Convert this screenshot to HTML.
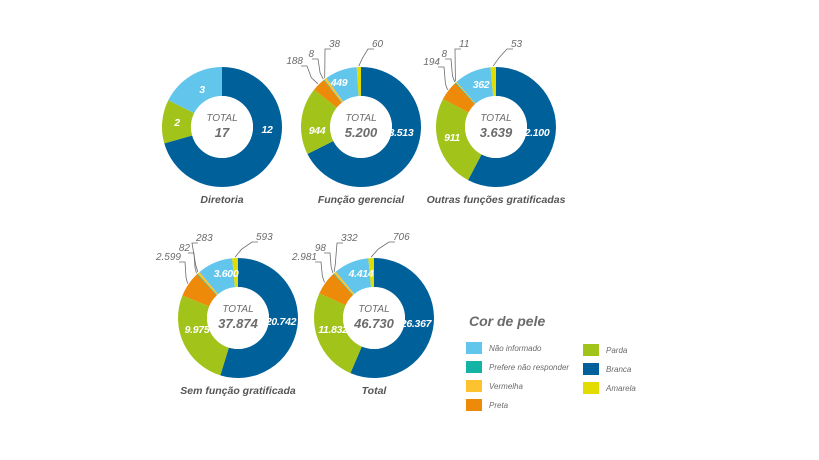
<!DOCTYPE html>
<html><head><meta charset="utf-8"><style>
html,body{margin:0;padding:0;background:#fff;width:819px;height:460px;overflow:hidden}
svg{display:block;font-family:"Liberation Sans",sans-serif}
</style></head><body>
<svg id="s" width="819" height="460" viewBox="0 0 819 460" xmlns="http://www.w3.org/2000/svg"></svg>
<script>
const C={b:"#00609a",p:"#a2c31a",pr:"#ee8a0a",t:"#13b3a5",v:"#fcc22f",n:"#62c5ec",a:"#e2dc00"};
const s=document.getElementById('s');let h='';
function arc(cx,cy,R,r,a0,a1,col){
 const f=(a,rr)=>[cx+rr*Math.sin(a),cy-rr*Math.cos(a)];
 const L=(a1-a0)>Math.PI?1:0;
 const [x0,y0]=f(a0,R),[x1,y1]=f(a1,R),[x2,y2]=f(a1,r),[x3,y3]=f(a0,r);
 return `<path d="M${x0} ${y0}A${R} ${R} 0 ${L} 1 ${x1} ${y1}L${x2} ${y2}A${r} ${r} 0 ${L} 0 ${x3} ${y3}Z" fill="${col}"/>`;
}
function donut(cx,cy,segs,total,title,inl,lead){
 const sum=segs.reduce((a,b)=>a+b[0],0);let a=0;const mids=[];
 segs.forEach(([v,c])=>{const d=v/sum*2*Math.PI;if(v>0)h+=arc(cx,cy,60,31,a,a+d,c);mids.push(a+d/2);a+=d;});
 h+=`<circle cx="${cx}" cy="${cy}" r="31" fill="#fff"/>`;
 h+=`<text x="${cx}" y="${cy-6}" text-anchor="middle" font-size="10" font-style="italic" fill="#6b6b6b">TOTAL</text>`;
 h+=`<text x="${cx}" y="${cy+10}" text-anchor="middle" font-size="13" font-weight="bold" font-style="italic" fill="#6b6b6b">${total}</text>`;
 h+=`<text x="${cx}" y="${cy+76}" text-anchor="middle" font-size="10.5" font-weight="bold" font-style="italic" fill="#555">${title}</text>`;
 inl.forEach(([t,x,y])=>h+=`<text x="${x}" y="${y}" text-anchor="middle" font-size="10.5" letter-spacing="-0.3" font-weight="bold" font-style="italic" fill="#fff">${t}</text>`);
 lead.forEach(([t,i,lx,ly,side])=>{
  const m=mids[i];const ex=cx+61*Math.sin(m),ey=cy-61*Math.cos(m);
  let pts;
  if(side=='l'){h+=`<text x="${lx}" y="${ly}" text-anchor="end" font-size="10" font-style="italic" fill="#6b6b6b">${t}</text>`;
   pts=`${lx-2},${ly+2} ${lx+4},${ly+2} ${lx+4+(ex-lx-4)*0.4},${ey-6} ${ex},${ey}`;}
  else{h+=`<text x="${lx}" y="${ly}" font-size="10" font-style="italic" fill="#6b6b6b">${t}</text>`;
   pts=`${lx+2},${ly+2} ${lx-4},${ly+2} ${lx-4+(ex-lx+4)*0.6},${ey-8} ${ex},${ey}`;}
  h+=`<polyline points="${pts}" fill="none" stroke="#6b6b6b" stroke-width="0.8"/>`;
 });
}
donut(222,127,[[12,C.b],[2,C.p],[3,C.n]],"17","Diretoria",[["12",267,133],["2",177,126],["3",202,93]],[]);
donut(361,127,[[3513,C.b],[944,C.p],[188,C.pr],[8,C.t],[38,C.v],[449,C.n],[60,C.a]],"5.200","Função gerencial",
 [["3.513",401,136],["944",317,134],["449",339,86]],
 [["188",2,303,64,'l'],["8",3,314,57,'l'],["38",4,329,47,'r'],["60",6,372,47,'r']]);
donut(496,127,[[2100,C.b],[911,C.p],[194,C.pr],[8,C.t],[11,C.v],[362,C.n],[53,C.a]],"3.639","Outras funções gratificadas",
 [["2.100",537,136],["911",452,141],["362",481,88]],
 [["194",2,440,65,'l'],["8",3,447,57,'l'],["11",4,459,47,'r'],["53",6,511,47,'r']]);
donut(238,318,[[20742,C.b],[9975,C.p],[2599,C.pr],[82,C.t],[283,C.v],[3600,C.n],[593,C.a]],"37.874","Sem função gratificada",
 [["20.742",281,325],["9.975",197,333],["3.600",226,277]],
 [["2.599",2,181,260,'l'],["82",3,190,251,'l'],["283",4,196,241,'r'],["593",6,256,240,'r']]);
donut(374,318,[[26367,C.b],[11832,C.p],[2981,C.pr],[98,C.t],[332,C.v],[4414,C.n],[706,C.a]],"46.730","Total",
 [["26.367",416,327],["11.832",333,333],["4.414",361,277]],
 [["2.981",2,317,260,'l'],["98",3,326,251,'l'],["332",4,341,241,'r'],["706",6,393,240,'r']]);
h+=`<text x="469" y="326" font-size="14" font-weight="bold" font-style="italic" fill="#6b6b6b">Cor de pele</text>`;
[["Não informado",C.n,466,342],["Prefere não responder",C.t,466,361],["Vermelha",C.v,466,380],["Preta",C.pr,466,399],
 ["Parda",C.p,583,344],["Branca",C.b,583,363],["Amarela",C.a,583,382]].forEach(([t,c,x,y])=>{
 h+=`<rect x="${x}" y="${y}" width="16" height="12" fill="${c}"/><text x="${x+23}" y="${y+9}" font-size="8" font-style="italic" fill="#6b6b6b">${t}</text>`;});
s.innerHTML=h;
</script>
</body></html>
